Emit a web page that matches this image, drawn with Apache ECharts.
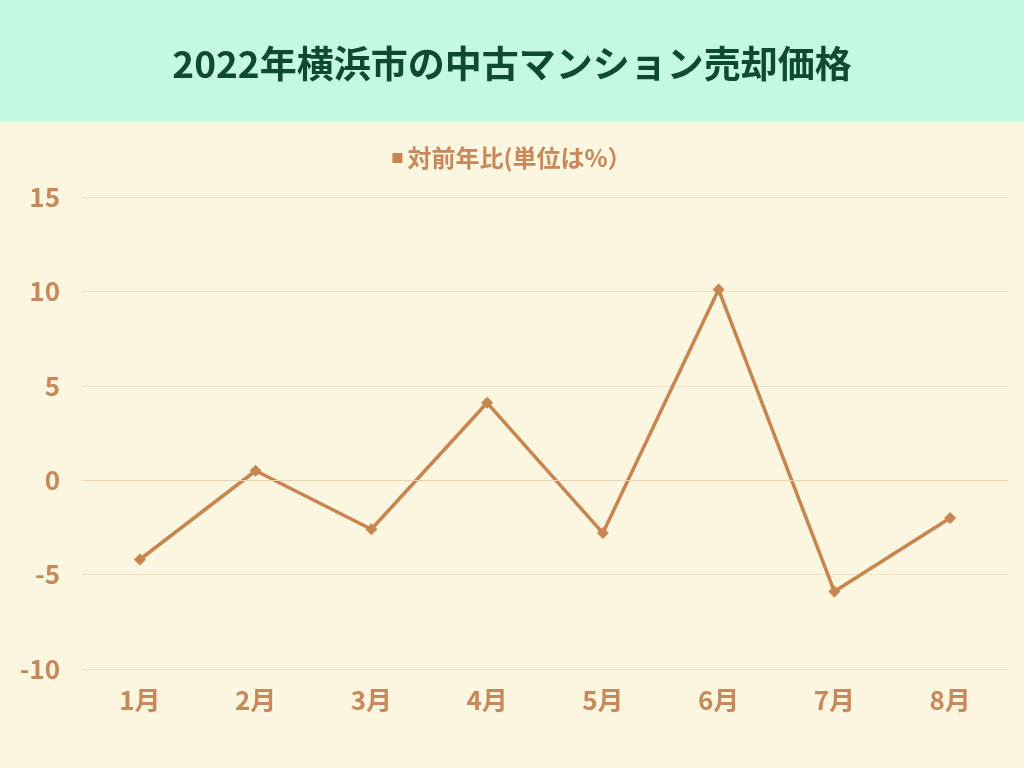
<!DOCTYPE html>
<html><head><meta charset="utf-8">
<script src="https://cdn.jsdelivr.net/npm/echarts@6/dist/echarts.min.js"></script>
<style>html,body{margin:0;padding:0;background:#faf6df}#c{width:1024px;height:768px}</style>
</head><body><div id="c"></div>
<script>
const categories = ['1月','2月','3月','4月','5月','6月','7月','8月'];
const values = [-4.2, 0.5, -2.6, 4.1, -2.8, 10.1, -5.9, -2.0];
const seriesName = '対前年比(単位は%）';
const titleText = '2022年横浜市の中古マンション売却価格';
const c = echarts.init(document.getElementById('c'));
const col = '#c8854f', lab = '#c8885a';
c.setOption({
  backgroundColor: '#faf6df',
  graphic: [{type:'rect', shape:{x:0,y:0,width:1024,height:122}, style:{fill:'#c4f8e1'}, z:-1}],
  title: {text: titleText, left:'center', top:40, textStyle:{fontFamily:'Noto Sans CJK JP', fontWeight:'bold', fontSize:37, color:'#0e4a2d'}},
  legend: {top:141, itemWidth:10, itemHeight:10, icon:'rect', textStyle:{color:lab, fontSize:24, fontWeight:'bold', fontFamily:'Noto Sans CJK JP'}},
  grid: {left:82, right:16, top:197, bottom:99},
  xAxis: {type:'category', data:categories, axisLine:{show:false}, axisTick:{show:false},
    axisLabel:{color:lab, fontSize:26, fontWeight:'bold', margin:18, fontFamily:'Noto Sans CJK JP'}},
  yAxis: {type:'value', min:-10, max:15, interval:5, axisLine:{show:false}, axisTick:{show:false},
    axisLabel:{color:lab, fontSize:26, fontWeight:'bold', margin:22, fontFamily:'Noto Sans CJK JP'},
    splitLine:{lineStyle:{color:'#f0e2c2', width:1}}},
  series: [{name:seriesName, type:'line', data:values, symbol:'diamond', symbolSize:12,
    itemStyle:{color:col}, lineStyle:{color:col, width:3.5},
    markLine:{silent:true, symbol:'none', label:{show:false}, lineStyle:{color:'#ead3ad', type:'solid', width:1}, data:[{yAxis:0}]}}]
});
</script></body></html>
